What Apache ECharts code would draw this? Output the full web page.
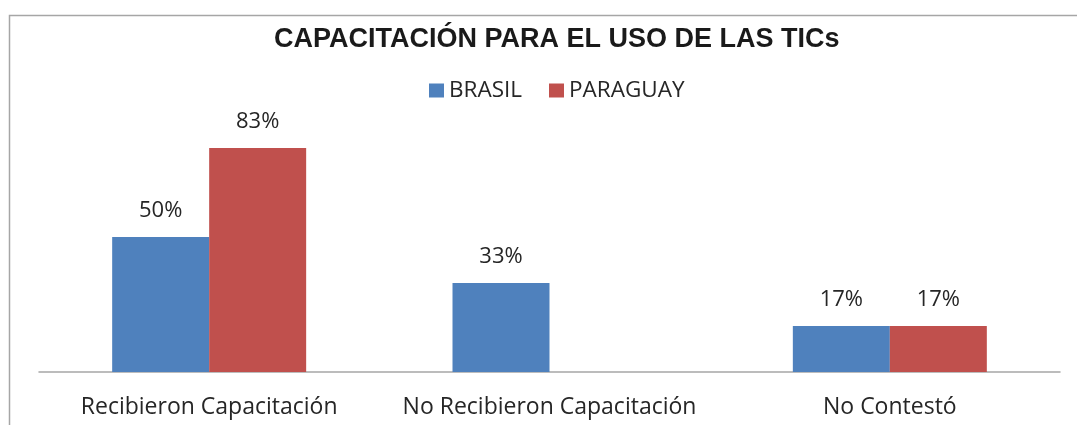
<!DOCTYPE html>
<html>
<head>
<meta charset="utf-8">
<script src="https://cdn.jsdelivr.net/npm/echarts@6/dist/echarts.min.js"></script>
<style>
    html, body { margin: 0; padding: 0; background: #fff; }
    #chart { width: 1077px; height: 425px; }
</style>
</head>
<body>
<div id="chart"></div>
<script>
// Capacitación para el uso de las TICs
var categories = ['Recibieron Capacitación', 'No Recibieron Capacitación', 'No Contestó'];
var brasil = [50, 33, 17];
var paraguay = [83, null, 17];

var myChart = echarts.init(document.getElementById('chart'));
var labelStyle = {
    show: true,
    position: 'top',
    distance: 15,
    fontFamily: 'Open Sans',
    fontSize: 22,
    color: '#262626',
    formatter: function (p) { return p.value + '%'; }
};
myChart.setOption({
    animation: false,
    title: {
        text: 'CAPACITACIÓN PARA EL USO DE LAS TICs',
        left: 269,
        top: 21,
        textStyle: {
            fontFamily: 'Liberation Sans',
            fontWeight: 'bold',
            fontSize: 27,
            color: '#1a1a1a'
        }
    },
    legend: {
        top: 74,
        left: 424,
        itemWidth: 15,
        itemHeight: 14,
        itemGap: 27,
        icon: 'rect',
        textStyle: {
            fontFamily: 'Open Sans',
            fontSize: 22.5,
            color: '#262626'
        }
    },
    graphic: [{
        type: 'polyline',
        shape: { points: [[9.5, 425], [9.5, 15.5], [1077, 15.5]] },
        style: { stroke: '#a6a6a6', lineWidth: 1.5, fill: null }
    }],
    grid: {
        top: 129,
        bottom: 53,
        left: 39,
        right: 17
    },
    xAxis: {
        type: 'category',
        data: categories,
        axisLine: { lineStyle: { color: '#a6a6a6', width: 1.5 } },
        axisTick: { show: false },
        axisLabel: {
            interval: 0,
            margin: 24,
            fontFamily: 'Open Sans',
            fontSize: 23,
            color: '#262626'
        }
    },
    yAxis: {
        type: 'value',
        min: 0,
        max: 90,
        show: false
    },
    series: [{
        name: 'BRASIL',
        type: 'bar',
        data: brasil,
        barGap: '0%',
        barCategoryGap: '43%',
        itemStyle: { color: '#4f81bd' },
        label: labelStyle
    }, {
        name: 'PARAGUAY',
        type: 'bar',
        data: paraguay,
        itemStyle: { color: '#c0504d' },
        label: labelStyle
    }]
});
</script>
</body>
</html>
